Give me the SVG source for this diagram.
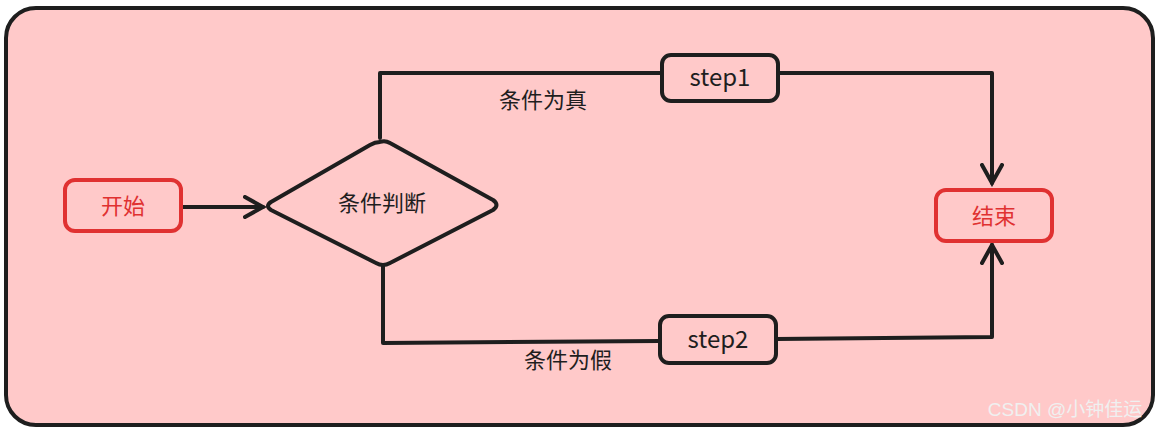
<svg xmlns="http://www.w3.org/2000/svg" width="1156" height="429" viewBox="0 0 1156 429">
<defs>
<style>
.n{fill:none;stroke:#1e1e1e;stroke-width:4;stroke-linejoin:round}
.r{fill:none;stroke:#e03131;stroke-width:4}
.c{fill:none;stroke:#1e1e1e;stroke-width:4;stroke-linecap:round;stroke-linejoin:round}
.t{font-family:"Noto Sans CJK SC","Noto Sans",sans-serif;font-size:22px;fill:#1e1e1e;text-anchor:middle}
.s{font-size:24px}
.rt{fill:#e03131}
</style>
<marker id="a" viewBox="0 0 12 12" refX="10" refY="6" markerWidth="6" markerHeight="6" orient="auto" markerUnits="strokeWidth"><path d="M1,1 L10,6 L1,11" fill="none" stroke="#1e1e1e" stroke-width="2" stroke-linecap="round"/></marker>
</defs>
<rect x="0" y="0" width="1156" height="429" fill="#ffffff"/>
<rect x="6" y="8" width="1147" height="417" rx="30" fill="#ffc9c9" stroke="#1e1e1e" stroke-width="4"/>
<g id="connectors">
<path class="c" d="M181,207 L263,207" marker-end="url(#a)"/>
<path class="c" d="M380,138 L380,73 L662,73"/>
<path class="c" d="M778,73 L992,73 L992,183" marker-end="url(#a)"/>
<path class="c" d="M383,266 L383,343 L660,341"/>
<path class="c" d="M776,339 L992,337 L992,245" marker-end="url(#a)"/>
<text class="t" x="543" y="108">条件为真</text>
<text class="t" x="568" y="368">条件为假</text>
</g>
<g id="start"><rect class="r" x="65" y="180" width="116" height="51" rx="10"/><text class="t rt" x="123" y="214">开始</text></g>
<g id="decision"><path class="n" d="M380,142 Q385,140 390,143 L493,200 Q500,205 493,210 L390,263 Q383,267 376,263 L271,210 Q265,206 271,202 L370,145 Q375,142 380,142 Z"/><text class="t" x="382" y="211">条件判断</text></g>
<g id="step1"><rect class="n" x="662" y="55" width="116" height="46" rx="9"/><text class="t s" x="720" y="86">step1</text></g>
<g id="step2"><rect class="n" x="660" y="316" width="116" height="47" rx="9"/><text class="t s" x="718" y="348">step2</text></g>
<g id="end"><rect class="r" x="936" y="190" width="116" height="51" rx="10"/><text class="t rt" x="994" y="224">结束</text></g>
<text x="1065" y="416" font-family="Liberation Sans,'Noto Sans CJK SC',sans-serif" font-size="19" fill="#f0f0f0" text-anchor="middle">CSDN @小钟佳运</text>
</svg>
